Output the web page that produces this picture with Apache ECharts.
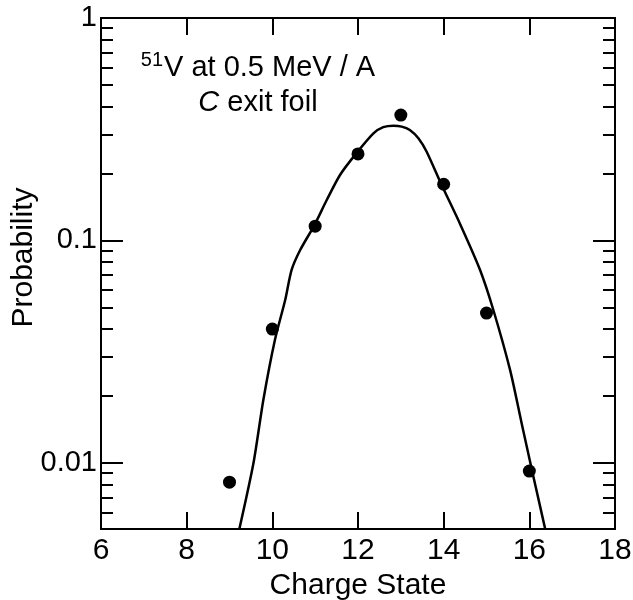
<!DOCTYPE html>
<html><head><meta charset="utf-8">
<script src="https://cdn.jsdelivr.net/npm/echarts@6/dist/echarts.min.js"></script>
<style>html,body{margin:0;padding:0;background:#fff}#c{width:633px;height:600px}</style>
</head><body><div id="c"></div>
<script>
const chargeStates = [9, 10, 11, 12, 13, 14, 15, 16];
const probabilities = [0.0082, 0.040, 0.116, 0.245, 0.366, 0.179, 0.0472, 0.0092];
const fitCharge = [9.23, 9.56, 9.79, 10.06, 10.30, 10.45, 10.65, 10.98, 11.27, 11.58, 11.95, 12.36, 12.59, 12.83, 13.02, 13.21, 13.41, 13.60, 13.95, 14.38, 14.85, 15.16, 15.55, 15.82, 16.06, 16.25, 16.37];
const fitProb   = [0.00505, 0.0100, 0.0192, 0.0357, 0.054, 0.0737, 0.0906, 0.117, 0.152, 0.197, 0.245, 0.303, 0.323, 0.328, 0.325, 0.314, 0.288, 0.251, 0.178, 0.119, 0.0737, 0.0487, 0.0262, 0.0151, 0.0093, 0.0064, 0.00505];
const xTickValues = [6, 8, 10, 12, 14, 16, 18];
const yMajorTicks = [0.01, 0.1, 1];
const yMajorLabels = ['0.01', '0.1', '1'];
const yMinorTicks = [0.006, 0.007, 0.008, 0.009, 0.02, 0.03, 0.04, 0.05, 0.06, 0.07, 0.08, 0.09, 0.2, 0.3, 0.4, 0.5, 0.6, 0.7, 0.8, 0.9];
const yMin = 0.00505, yMax = 1;
const xMin = 6, xMax = 18;

const FONT = 'Liberation Sans, Arial, Helvetica, sans-serif';
const chart = echarts.init(document.getElementById('c'));
const axisLine = {show: true, lineStyle: {color: '#000', width: 2}};

function yAxis(pos, major, labels) {
  return {
    type: 'log', logBase: 10, min: yMin, max: yMax, position: pos,
    axisLine: axisLine,
    splitLine: {show: false},
    axisTick: {show: true, inside: true, length: major ? 22 : 12,
      lineStyle: {color: '#000', width: 2},
      customValues: major ? yMajorTicks : yMinorTicks},
    axisLabel: labels ? {show: true, customValues: yMajorTicks, fontFamily: FONT, fontSize: 29, color: '#000', margin: 4,
      formatter: v => { const i = yMajorTicks.findIndex(t => Math.abs(t - v) / t < 1e-6); return i >= 0 ? yMajorLabels[i] : ''; }} : {show: false},
    name: labels ? 'Probability' : '',
    nameLocation: 'middle', nameGap: 62, nameRotate: 90, nameMoveOverlap: false,
    nameTextStyle: {fontFamily: FONT, fontSize: 30, color: '#000', padding: [0, 0, 0, 32]}
  };
}
function xAxis(pos, labels) {
  return {
    type: 'value', min: xMin, max: xMax, interval: 2, position: pos,
    axisLine: axisLine, splitLine: {show: false},
    axisTick: {show: true, inside: true, length: 17, lineStyle: {color: '#000', width: 2}},
    axisLabel: labels ? {show: true, fontFamily: FONT, fontSize: 30, color: '#000', margin: 7,
      formatter: v => xTickValues.includes(v) ? String(v) : ''} : {show: false},
    name: labels ? 'Charge State' : '',
    nameLocation: 'middle', nameGap: 35,
    nameTextStyle: {fontFamily: FONT, fontSize: 30, color: '#000'}
  };
}

chart.setOption({
  backgroundColor: '#fff',
  animation: false,
  grid: {left: 101, right: 18, top: 18, bottom: 71, containLabel: false, outerBoundsMode: 'none'},
  title: {
    left: 253, top: 45, textAlign: 'center',
    text: '{sup|51}{n|V at 0.5 MeV / A}\n{i|C}{n| exit foil}',
    textStyle: {
      fontFamily: FONT, fontSize: 29, fontWeight: 'normal', color: '#000', lineHeight: 35,
      rich: {
        sup: {fontFamily: FONT, fontSize: 20, color: '#000', verticalAlign: 'top', lineHeight: 35, padding: [0, 1, 0, 0]},
        n: {fontFamily: FONT, fontSize: 29, color: '#000', lineHeight: 35},
        i: {fontFamily: FONT, fontSize: 29, fontStyle: 'italic', color: '#000', lineHeight: 35}
      }
    }
  },
  xAxis: [xAxis('bottom', true), xAxis('top', false)],
  yAxis: [yAxis('left', true, true), yAxis('left', false, false), yAxis('right', true, false), yAxis('right', false, false)],
  series: [
    {
      type: 'line', xAxisIndex: 0, yAxisIndex: 0, smooth: 0.25, symbol: 'none', clip: true,
      lineStyle: {color: '#000', width: 2.5},
      data: fitCharge.map((x, i) => [x, fitProb[i]])
    },
    {
      type: 'scatter', xAxisIndex: 0, yAxisIndex: 0, symbol: 'circle', symbolSize: 13,
      itemStyle: {color: '#000', opacity: 1},
      data: chargeStates.map((x, i) => [x, probabilities[i]])
    }
  ]
});
</script>
</body></html>
